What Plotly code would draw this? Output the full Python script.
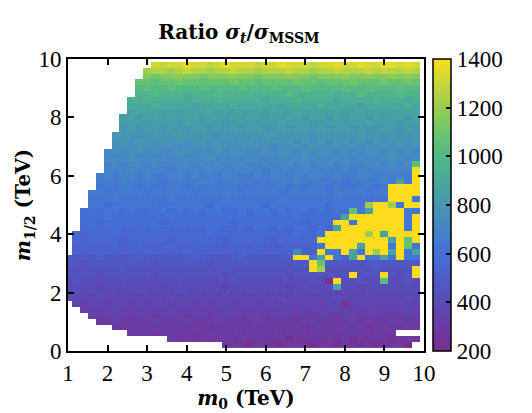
import plotly.graph_objects as go

# ---- data -------------------------------------------------------------
# m0 cell centres (TeV)
M0 = [1.0, 1.2, 1.4, 1.6, 1.8, 2.0, 2.2, 2.4, 2.6, 2.8,
      3.0, 3.2, 3.4, 3.6, 3.8, 4.0, 4.2, 4.4, 4.6, 4.8,
      5.0, 5.2, 5.4, 5.6, 5.8, 6.0, 6.2, 6.4, 6.6, 6.8,
      7.0, 7.2, 7.4, 7.6, 7.8, 8.0, 8.2, 8.4, 8.6, 8.8,
      9.0, 9.2, 9.4, 9.6, 9.8]
# m1/2 cell centres (TeV), listed top to bottom like ROWS
M12_TOP_DOWN = [9.8, 9.6, 9.4, 9.2, 9.0, 8.8, 8.6, 8.4, 8.2, 8.0,
                7.8, 7.6, 7.4, 7.2, 7.0, 6.8, 6.6, 6.4, 6.2, 6.0,
                5.8, 5.6, 5.4, 5.2, 5.0, 4.8, 4.6, 4.4, 4.2, 4.0,
                3.8, 3.6, 3.4, 3.2, 3.0, 2.8, 2.6, 2.4, 2.2, 2.0,
                1.8, 1.6, 1.4, 1.2, 1.0, 0.8, 0.6, 0.4, 0.2]

# value code: '.' = no point, '#' = above scale (>1400),
# otherwise ratio = 200 + 35 * index in LEVEL_CHARS
LEVEL_CHARS = "0123456789ABCDEFGHIJKLMNOPQRSTUVWXYZ"
ABOVE_SCALE = 1500
ROWS = [
    "..........." + "WVWWXWWVWXWWWVWWXWWWVWWXWWXWWXXWXW",
    ".........." + "TUUTUVUUTUUVUUTUUUVUUTUUVUUUVUVUUVU",
    ".........." + "RQRRSRRQRRRSRRQRRRSRRQRRRSRRSRRSRSR",
    "........." + "PPOPPQPPOPPPQPPOPPPPQPPOPPPQPPPQPPQP",
    "........." + "NONNONNNONNNNONNNONNNONNNNONNONNNONN",
    "........." + "MMNMMMLMMMNMMMMLMMMNMMMMMLMMNMMMMNMM",
    "........" + "LLMLLLLKLLLMLLLLLKLLLMLLLLKLLLLMLLLKL",
    "........" + "KKKLKKKKJKKKKLKKKKKJKKKKLKKKKJKKKKKLK",
    "........" + "JKJJJJIJJJKJJJJJJIJJJKJJJJJIJJJJKJJJJ",
    "......." + "IJIJJIJIJJIJJIJIJJIJIJJIJJIJIJJIJIJJIJ",
    "......." + "IIIHIIIIJIIIIHIIIIIIJIIIHIIIIIIJIIIHII",
    "......." + "HIHIIHIHHIIHIHIHIIHHIHIIHIHIIHIHHIIHIH",
    "......" + "HHHGHHHHIHHHHGHHHHHHIHHHHGHHHHHIHHHHGHH",
    "......" + "GHGHHGHGHGHHGHGGHHGHGHHGHGHGHHGHGHGHHGH",
    "......" + "GGGHGGGGFGGGGHGGGGGGFGGGGHGGGGGFGGGGHGG",
    "....." + "FGFGGFGFFGGFGFGFGGFFGFGGFGFGGFGFFGGFGFGF",
    "....." + "FFFGFFFFEFFFFGFFFFFFEFFFFGFFFFFEFFFFGFFF",
    "....." + "EFEFFEFEEFFEFEFEFFEEFEFFEFEFFEFEEFFEFEFO",
    "....." + "EEEFEEEEDEEEEFEEEEEEDEEEEFEEEEEDEEEEFEE#",
    "...." + "DEDEEDEDDEEDEDEDEEDDEDEEDEDEEDEDDEEDEDED#",
    "...." + "DDDEDDDDCDDDDEDDDDDDCDDDDEDDDDDCDDDDEDJD#",
    "...." + "CDCDDCDCCDDCDCDCDDCCDCDDCDCDDCDCCDD" + "CD####",
    "..." + "DDCDDDDCDDDDDCDDDDDCDDDDCDDDDDCDDDDCDD" + "####",
    "..." + "CCCDCCCCCCDCCCCCCDCCCCCCDCCCCCCDCCCCCC" + "###C",
    "..." + "CCBCCCCCCBCCCCCBCCCCCCBCCCCCCCBCCCC" + "T##TC##",
    ".." + "BCBCCBCBBCCBCBCBCCBBCBCCBCBCCBCBCB" + "PCJ####CC",
    ".." + "BBBCBBBBBBBCBBBBBBBBCBBBBBBCBBBBB" + "J#######C#",
    ".." + "BBABBBBBBBABBBBBBBBABBBBBBBBABBB" + "##C######C#",
    ".." + "ABABBABAABBABABABBAABABBABABBABA" + "J########C#",
    "." + "AAAAABAAAAAAAAAAABAAAAAAAAAABA" + "AC#####T#J####",
    "." + "A9AAAA9AAAAA9AAAAAA9AAAAA9AAAAA" + "#########J#P#",
    "." + "9A999A99A999A999A999A99A999A999" + "C####J###C#PC",
    "." + "999A99999A9999A999999A999999" + "F99#CC#JC#T#J#CJ",
    "8888988889888888988888988888" + "9##CJ#C9J#CCJC#CC",
    "8878888888878888887888888888788" + "#P888878888888",
    "7777777877777777777787777777777" + "#T77777787777#",
    "777767777776777777776777777767777777" + "#777#767#",
    "676666676666667666666766666666676" + "0#66766O6676",
    "6666566666665666666656666666566666" + "J6656666666",
    "565665655665656655656556656556566556556565656",
    "555565555555565555555555555655555565555555565",
    "." + "5455455454554554545545545545455455" + "2455454554",
    ".." + "4444544444454444445444444454444454444444454",
    "..." + "434443443444344344434434443434434434434343",
    "...." + "33433334333433343333433333343333433334333",
    "......" + "333333333333233333333333233333332333233",
    "........" + "3332333323333323333233233323332332",
    "............." + "32323233232322312232323122321232",
    "...................." + "222122212220221221212220" + ".",
]


def decode(ch):
    if ch == ".":
        return None
    if ch == "#":
        return ABOVE_SCALE
    return 200 + 35 * LEVEL_CHARS.index(ch)


z_top_down = []
for row in ROWS:
    vals = [decode(c) for c in row]
    vals = (vals + [None] * len(M0))[:len(M0)]
    z_top_down.append(vals)

Z = z_top_down[::-1]
M12 = M12_TOP_DOWN[::-1]

CB_TICKS = [200, 400, 600, 800, 1000, 1200, 1400]
X_TICKS = [1, 2, 3, 4, 5, 6, 7, 8, 9, 10]
Y_TICKS = [0, 2, 4, 6, 8, 10]

# ---- style ------------------------------------------------------------
FONT = "Liberation Serif"
TITLE_FONT = "DejaVu Serif"
colorscale = [
    [0.0000, "#7b2d8f"],
    [0.0833, "#6b3ba3"],
    [0.1667, "#5a4ab6"],
    [0.2500, "#4c5dc8"],
    [0.3333, "#4371d8"],
    [0.4167, "#4484c8"],
    [0.5000, "#4697b0"],
    [0.5833, "#49a89c"],
    [0.6667, "#52b886"],
    [0.7500, "#6ec46c"],
    [0.8333, "#98cd52"],
    [0.9167, "#c8d63a"],
    [1.0000, "#fcdc1c"],
]

fig = go.Figure(
    go.Heatmap(
        x=M0,
        y=M12,
        z=Z,
        zmin=200,
        zmax=1400,
        colorscale=colorscale,
        hoverongaps=False,
        colorbar=dict(
            thickness=18,
            len=292,
            lenmode="pixels",
            x=1.025,
            xanchor="left",
            xpad=0,
            y=1.0,
            yanchor="top",
            ypad=0,
            outlinewidth=1.5,
            outlinecolor="black",
            tickvals=CB_TICKS,
            ticks="inside",
            ticklen=5,
            tickwidth=1.5,
            tickcolor="black",
            tickfont=dict(family=FONT, size=23, color="black"),
        ),
    )
)

axis_common = dict(
    showline=True,
    linewidth=2,
    linecolor="black",
    mirror="ticks",
    ticks="inside",
    ticklen=6,
    tickwidth=1.5,
    tickcolor="black",
    showgrid=False,
    zeroline=False,
    tickfont=dict(family=FONT, size=23, color="black"),
)

fig.update_layout(
    width=532,
    height=413,
    margin=dict(l=68, r=108, t=59, b=62),
    paper_bgcolor="white",
    plot_bgcolor="white",
    title=dict(
        text="<b>Ratio <i>σ<sub>t</sub></i>/<i>σ</i><sub>MSSM</sub></b>",
        x=0.48,
        xref="paper",
        xanchor="center",
        y=0.922,
        yref="container",
        yanchor="middle",
        font=dict(family=TITLE_FONT, size=20, color="black"),
    ),
    xaxis=dict(
        range=[1, 10],
        tickvals=X_TICKS,
        title=dict(text="<b><i>m</i><sub>0</sub> (TeV)</b>",
                   font=dict(family=TITLE_FONT, size=20, color="black"), standoff=2),
        **axis_common,
    ),
    yaxis=dict(
        range=[0, 10],
        tickvals=Y_TICKS,
        title=dict(text="<b><i>m</i><sub>1/2</sub> (TeV)</b>",
                   font=dict(family=TITLE_FONT, size=20, color="black"), standoff=2),
        **axis_common,
    ),
)

fig.write_html("out.html")
